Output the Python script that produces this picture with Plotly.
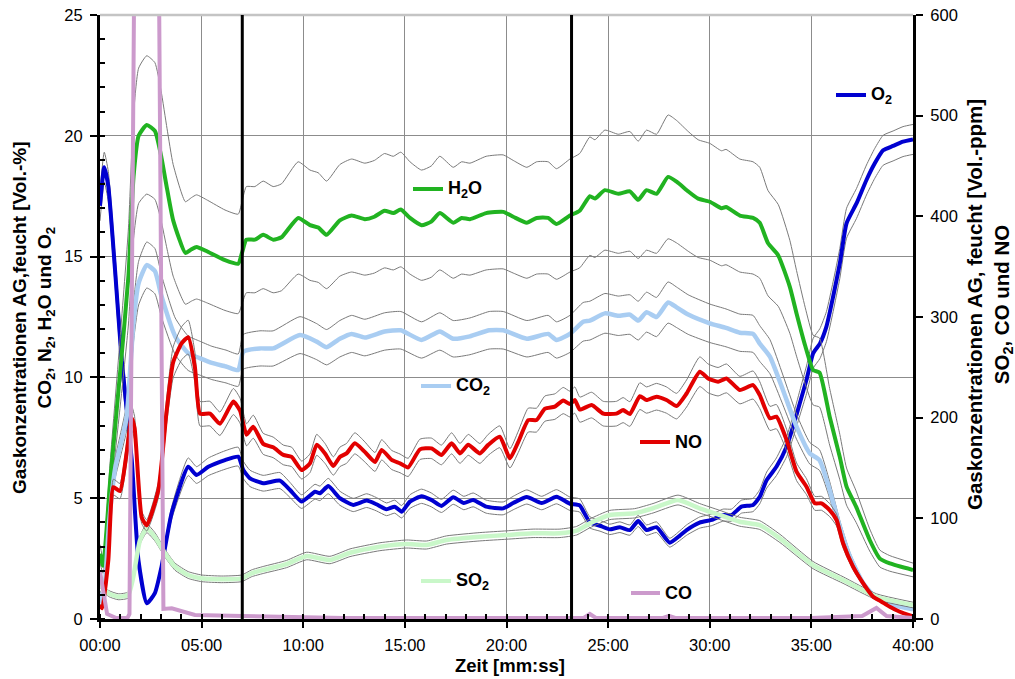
import numpy as np
import plotly.graph_objects as go

# ---------------- data (minutes, values) ----------------
t_h2o = [0, 0.15, 0.5, 1.0, 1.4, 1.65, 1.9, 2.3, 2.7, 3.0, 3.3, 3.6, 4.2, 4.5, 4.75, 5.3, 6.15, 6.8, 7.0, 7.2,
         7.62, 8.03, 8.52, 8.93, 9.75, 10.33, 10.74, 11.15, 11.8, 12.38, 13.03, 13.5, 14.0, 14.43, 14.8, 15.25,
         15.82, 16.3, 16.72, 17.38, 17.79, 18.2, 19.0, 19.84, 20.33, 21.0, 21.48, 22.05, 22.46, 23.12, 23.6, 24.1,
         24.35, 24.84, 25.5, 26.07, 26.48, 26.89, 27.38, 27.95, 28.37, 28.94, 29.43, 30.0, 30.58, 30.8, 31.48,
         32.13, 32.46, 32.87, 33.37, 33.94, 34.27, 34.7, 35.09, 35.4, 35.9, 36.4, 36.73, 37.2, 37.87, 38.37, 38.86, 40.0]
v_h2o = [2.7, 2.2, 5.7, 10.3, 14.2, 18.3, 20.0, 20.45, 20.2, 19.2, 17.8, 16.5, 15.15, 15.3, 15.4, 15.2, 14.85, 14.7,
         15.2, 15.7, 15.7, 15.9, 15.7, 15.8, 16.6, 16.3, 16.2, 15.9, 16.5, 16.7, 16.55, 16.65, 16.9, 16.8, 16.95,
         16.6, 16.3, 16.45, 16.8, 16.4, 16.6, 16.55, 16.8, 16.85, 16.65, 16.4, 16.6, 16.6, 16.35, 16.7, 16.9, 17.5,
         17.4, 17.75, 17.6, 17.7, 17.35, 17.75, 17.6, 18.3, 18.1, 17.7, 17.4, 17.27, 17.0, 17.05, 16.7, 16.6, 16.4,
         15.55, 15.05, 13.75, 12.65, 11.3, 10.3, 10.2, 8.37, 6.7, 5.48, 4.65, 3.27, 2.5, 2.3, 2.03]

t_co2 = [0, 0.15, 0.45, 0.74, 1.3, 1.5, 1.64, 1.9, 2.3, 2.7, 3.03, 3.7, 4.34, 4.9, 5.5, 6.2, 6.8, 7.05, 7.87, 8.52,
         9.84, 10.66, 11.15, 11.8, 12.38, 13.03, 14.0, 14.8, 15.82, 16.72, 17.38, 18.2, 19.15, 19.84, 21.0, 22.05,
         22.46, 23.12, 23.77, 24.1, 24.84, 25.5, 26.07, 26.48, 26.89, 27.38, 27.95, 28.37, 28.94, 30.0, 30.8, 31.48,
         32.13, 32.46, 32.96, 33.6, 34.27, 34.92, 35.4, 35.9, 36.4, 36.9, 37.55, 38.2, 39.0, 40.0]
v_co2 = [1.1, 0.6, 4.0, 6.2, 8.3, 10.5, 12.2, 13.9, 14.65, 14.4, 13.35, 11.7, 11.0, 10.8, 10.6, 10.45, 10.3, 11.06,
         11.2, 11.2, 11.75, 11.48, 11.25, 11.6, 11.8, 11.65, 11.9, 11.95, 11.55, 11.9, 11.6, 11.7, 11.95, 11.95, 11.6,
         11.8, 11.55, 11.8, 12.3, 12.35, 12.65, 12.55, 12.6, 12.35, 12.7, 12.5, 13.1, 12.9, 12.6, 12.24, 12.05, 11.85,
         11.8, 11.4, 10.86, 9.48, 7.96, 6.86, 6.58, 5.34, 3.82, 2.58, 1.48, 0.86, 0.58, 0.4]

t_o2 = [0, 0.21, 0.41, 0.74, 1.07, 1.56, 1.89, 2.3, 2.7, 3.03, 3.52, 4.34, 4.75, 5.33, 6.15, 6.8, 7.05, 7.38, 8.03,
        8.85, 9.35, 9.92, 10.58, 10.82, 11.23, 11.8, 12.46, 13.12, 13.6, 14.1, 14.5, 14.84, 15.25, 15.82, 16.3, 16.8,
        17.38, 17.9, 18.36, 19.0, 19.84, 20.33, 21.0, 21.73, 22.46, 23.12, 23.6, 24.1, 24.6, 25.08, 25.58, 26.07,
        26.48, 26.89, 27.38, 28.03, 28.53, 28.86, 29.5, 30.09, 30.66, 31.07, 31.56, 32.13, 32.46, 32.8, 33.28, 33.78,
        34.1, 34.43, 34.76, 35.09, 35.42, 35.74, 36.07, 36.4, 36.73, 37.22, 37.71, 38.12, 38.53, 39.02, 39.51, 40.0]
v_o2 = [17.1, 18.7, 17.9, 14.45, 10.7, 6.6, 2.44, 0.65, 1.07, 2.17, 4.37, 6.3, 5.96, 6.3, 6.58, 6.72, 6.17, 5.82,
        5.62, 5.73, 5.34, 4.86, 5.27, 5.2, 5.5, 5.0, 4.72, 4.9, 4.75, 4.54, 4.65, 4.44, 4.86, 5.08, 4.93, 4.68, 5.04,
        4.8, 4.93, 4.65, 4.58, 4.8, 5.05, 4.8, 5.06, 4.77, 4.7, 4.0, 3.86, 3.71, 3.8, 3.68, 4.06, 3.68, 3.8, 3.16,
        3.45, 3.68, 3.99, 4.1, 4.3, 4.3, 4.65, 4.72, 5.06, 5.75, 6.3, 7.13, 7.96, 8.93, 9.9, 11.0, 11.4, 12.1, 13.34,
        14.72, 16.38, 17.2, 18.17, 18.86, 19.4, 19.58, 19.76, 19.85]

t_no = [0, 0.11, 0.41, 0.66, 0.98, 1.31, 1.55, 1.7, 2.05, 2.3, 2.87, 3.28, 3.6, 4.02, 4.34, 4.67, 4.92, 5.41, 5.9,
        6.56, 6.89, 7.21, 7.54, 8.03, 8.52, 9.02, 9.43, 9.92, 10.33, 10.66, 11.07, 11.48, 11.8, 12.13, 12.54, 13.03,
        13.53, 13.86, 14.35, 14.76, 15.16, 15.74, 16.31, 16.8, 17.3, 17.71, 18.12, 18.69, 19.1, 19.67, 20.17, 20.58,
        21.07, 21.48, 21.89, 22.38, 22.79, 23.12, 23.36, 23.61, 24.19, 24.76, 25.41, 25.74, 26.07, 26.56, 26.89,
        27.38, 27.87, 28.37, 28.86, 29.51, 29.92, 30.41, 30.82, 31.48, 32.13, 32.46, 32.96, 33.28, 33.78, 34.27,
        34.76, 35.17, 35.5, 35.9, 36.24, 36.56, 37.05, 37.55, 38.04, 38.45, 38.86, 39.35, 40.0]
v_no = [14, 10.6, 58.6, 131, 127, 165, 200, 190, 101, 93, 128, 207, 255, 274, 280, 250, 204, 204, 194, 216, 207,
        183, 191, 174, 170.5, 163, 161, 148, 154.6, 173, 164.5, 152, 161, 164.5, 174.5, 166, 156, 168, 158, 154.6,
        150.6, 168.5, 169.5, 163, 174.5, 164.5, 173, 164.5, 173, 181, 159.6, 176, 197.6, 197.6, 209, 211, 217,
        213.5, 217.5, 208, 212.5, 204, 204, 207.5, 203.6, 221.4, 217.5, 220.8, 217.5, 211.5, 224, 245.6, 239,
        235.7, 239, 227.4, 232.4, 222.4, 199.3, 201, 177.8, 146.3, 131.4, 114.9, 114.9, 108.2, 98.3, 75.2, 52,
        35.4, 22.1, 17.2, 12.2, 7.2, 2.5]

t_so2 = [0, 0.41, 0.9, 1.39, 1.64, 1.97, 2.3, 2.7, 3.2, 3.69, 4.34, 5.0, 5.99, 6.97, 7.46, 8.03, 9.18, 10.17, 11.31,
         12.3, 13.77, 15.09, 16.07, 17.05, 18.69, 20.0, 21.31, 22.63, 23.45, 24.1, 25.08, 26.3, 27.21, 28.44, 29.5,
         30.5, 31.48, 32.46, 33.45, 35.08, 36.56, 38.2, 40.0]
v_so2 = [34.8, 25.5, 22.1, 23.8, 42, 78.5, 90, 81.7, 65.2, 52, 43.7, 40.4, 39.4, 40.4, 45.4, 48.7, 54.6, 62.6, 58.6,
         65.8, 71.8, 74.5, 73.5, 78.5, 81.7, 83.4, 85.1, 85.1, 87.7, 95, 103.3, 105, 110, 118.2, 110, 103.3, 96.6,
         93.3, 80.1, 53.6, 38.7, 22.1, 13.9]

t_co = [0, 0.15, 0.35, 0.8, 1.35, 1.45, 2.0, 2.6, 3.12, 3.53, 4.67, 7.0, 12.0, 20.0, 23.8, 24.1, 24.4, 27.7, 28.0,
        28.3, 35.0, 37.5, 38.2, 38.7, 40.0]
v_co = [47, 30, 5, 1, 1, 5, 1500, 1500, 10, 10.6, 4, 3, 1, 1, 1, 5, 1, 1, 3, 1, 1, 3, 11, 3, 1]

# measurement uncertainty bands: (absolute, relative, cap)
unc_h2o = (0.0, 0.14, None)
unc_co2 = (0.0, 0.065, None)
unc_o2 = (0.0, 0.058, 0.62)
unc_no = (0.0, 0.06, None)
unc_so2 = (2.5, 0.02, None)

phase_marks = [7.0, 23.2]
xtick_vals = [0, 5, 10, 15, 20, 25, 30, 35, 40]
xtick_labels = ["00:00", "05:00", "10:00", "15:00", "20:00", "25:00", "30:00", "35:00", "40:00"]

# ---------------- styling ----------------
C_H2O = "#21b321"
C_CO2 = "#a9cdf2"
C_O2 = "#0000d0"
C_NO = "#e20000"
C_SO2 = "#c9f7c9"
C_CO = "#cc9acc"
C_BAND = "#7a7a7a"
FONT = "Liberation Sans, Arial, sans-serif"

fig = go.Figure()


def band(v, unc):
    a, r, cap = unc
    v = np.asarray(v, dtype=float)
    h = a + r * v
    if cap is not None:
        h = np.minimum(h, cap)
    return v + h, v - h


def add_series(t, v, color, width, unc=None, axis="y"):
    if unc is not None:
        up, lo = band(v, unc)
        for b in (up, lo):
            fig.add_trace(go.Scatter(x=t, y=b, mode="lines", yaxis=axis, hoverinfo="skip",
                                     line=dict(color=C_BAND, width=1, shape="spline", smoothing=0.5)))
    fig.add_trace(go.Scatter(x=t, y=v, mode="lines", yaxis=axis,
                             line=dict(color=color, width=width, shape="spline", smoothing=0.5)))


add_series(t_o2, v_o2, C_O2, 4, unc_o2)
add_series(t_h2o, v_h2o, C_H2O, 4, unc_h2o)
add_series(t_co2, v_co2, C_CO2, 4.5, unc_co2)
add_series(t_so2, v_so2, C_SO2, 4.5, unc_so2, axis="y2")
add_series(t_no, v_no, C_NO, 4, unc_no, axis="y2")
fig.add_trace(go.Scatter(x=t_co, y=v_co, mode="lines", yaxis="y2",
                         line=dict(color=C_CO, width=4)))

L, R, T, B = 100, 102, 15, 60
W, H = 1015, 679
PW, PH = W - L - R, H - T - B


def px(x):
    return (x - L) / PW


def py(y):
    return (H - B - y) / PH


fig.update_layout(
    width=W, height=H, margin=dict(l=L, r=R, t=T, b=B, autoexpand=False),
    plot_bgcolor="white", paper_bgcolor="white", showlegend=False,
    font=dict(family=FONT, size=16.5, color="black"),
    xaxis=dict(range=[0, 40], tickmode="array", tickvals=xtick_vals, ticktext=xtick_labels, automargin=False,
               showgrid=True, gridcolor="#8c8c8c", gridwidth=1, zeroline=False,
               showline=True, linecolor="black", linewidth=3,
               ticks="outside", ticklen=6, tickwidth=2, tickcolor="black",
               minor=dict(dtick=1, tick0=0, ticks="inside", ticklen=5, tickwidth=2, tickcolor="black", showgrid=False),
               ticklabelstandoff=3),
    yaxis=dict(range=[0, 25], dtick=5, showgrid=True, gridcolor="#8c8c8c", gridwidth=1, zeroline=False,
               showline=True, linecolor="black", linewidth=3, automargin=False,
               ticks="outside", ticklen=7, tickwidth=2, tickcolor="black",
               minor=dict(dtick=1, ticks="inside", ticklen=5, tickwidth=2, tickcolor="black", showgrid=False),
               ticklabelstandoff=4),
    yaxis2=dict(range=[0, 600], dtick=100, overlaying="y", side="right", showgrid=False, zeroline=False,
                showline=True, linecolor="black", linewidth=3, automargin=False,
                ticks="outside", ticklen=7, tickwidth=2, tickcolor="black", ticklabelstandoff=4),
    xaxis2=dict(range=[0, 40], overlaying="x", anchor="y", side="bottom", tickmode="array", tickvals=xtick_vals,
                showticklabels=False, showgrid=False, zeroline=False, showline=False, automargin=False,
                ticks="inside", ticklen=7, tickwidth=2, tickcolor="black"),
    yaxis3=dict(range=[0, 25], dtick=5, overlaying="y", side="left", anchor="x", showticklabels=False,
                showgrid=False, zeroline=False, showline=False, automargin=False,
                ticks="inside", ticklen=7, tickwidth=2, tickcolor="black"),
    yaxis4=dict(range=[0, 600], dtick=100, overlaying="y", side="right", anchor="x", showticklabels=False,
                showgrid=False, zeroline=False, showline=False, automargin=False,
                ticks="inside", ticklen=7, tickwidth=2, tickcolor="black"),
)

shapes = []
# top border (light)
shapes.append(dict(type="line", xref="paper", yref="paper", x0=0, x1=1, y0=1, y1=1,
                   line=dict(color="#c4c4c4", width=2.5), layer="above"))
for m in phase_marks:
    shapes.append(dict(type="line", xref="x", yref="paper", x0=m, x1=m, y0=0, y1=1,
                       line=dict(color="black", width=3), layer="above"))

annotations = []
legend_items = [
    ("H<sub>2</sub>O", C_H2O, 413, 443, 189, 60),
    ("CO<sub>2</sub>", C_CO2, 421, 451, 386, 60),
    ("NO", C_NO, 640, 670, 442, 50),
    ("SO<sub>2</sub>", C_SO2, 421, 451, 581, 60),
    ("CO", C_CO, 631, 660, 593, 50),
    ("O<sub>2</sub>", C_O2, 836, 866, 95, 40),
]
for txt, col, x0, x1, y, tw in legend_items:
    shapes.append(dict(type="rect", xref="paper", yref="paper", x0=px(x0 - 4), x1=px(x1 + tw), y0=py(y + 12),
                       y1=py(y - 12), fillcolor="white", line=dict(width=0), layer="between"))
    shapes.append(dict(type="line", xref="paper", yref="paper", x0=px(x0), x1=px(x1), y0=py(y), y1=py(y),
                       line=dict(color=col, width=4), layer="above"))
    annotations.append(dict(xref="paper", yref="paper", x=px(x1 + 3), y=py(y), xanchor="left", yanchor="middle",
                            text="<b>" + txt + "</b>", showarrow=False, font=dict(size=18, family=FONT)))

annotations.append(dict(xref="paper", yref="paper", x=px(33), y=py(318), xanchor="center", yanchor="middle",
                        textangle=-90, showarrow=False, font=dict(size=19, family=FONT),
                        text="<b>Gaskonzentrationen AG,feucht [Vol.-%]<br>CO<sub>2</sub>, N<sub>2</sub>, "
                             "H<sub>2</sub>O und O<sub>2</sub></b>"))
annotations.append(dict(xref="paper", yref="paper", x=px(989), y=py(305), xanchor="center", yanchor="middle",
                        textangle=-90, showarrow=False, font=dict(size=20.5, family=FONT),
                        text="<b>Gaskonzentrationen AG, feucht [Vol.-ppm]<br>SO<sub>2</sub>, CO und NO</b>"))
annotations.append(dict(xref="paper", yref="paper", x=px(510), y=py(665), xanchor="center", yanchor="middle",
                        showarrow=False, font=dict(size=18.5, family=FONT), text="<b>Zeit [mm:ss]</b>"))

fig.update_layout(shapes=shapes, annotations=annotations)
fig.write_html("out.html")
